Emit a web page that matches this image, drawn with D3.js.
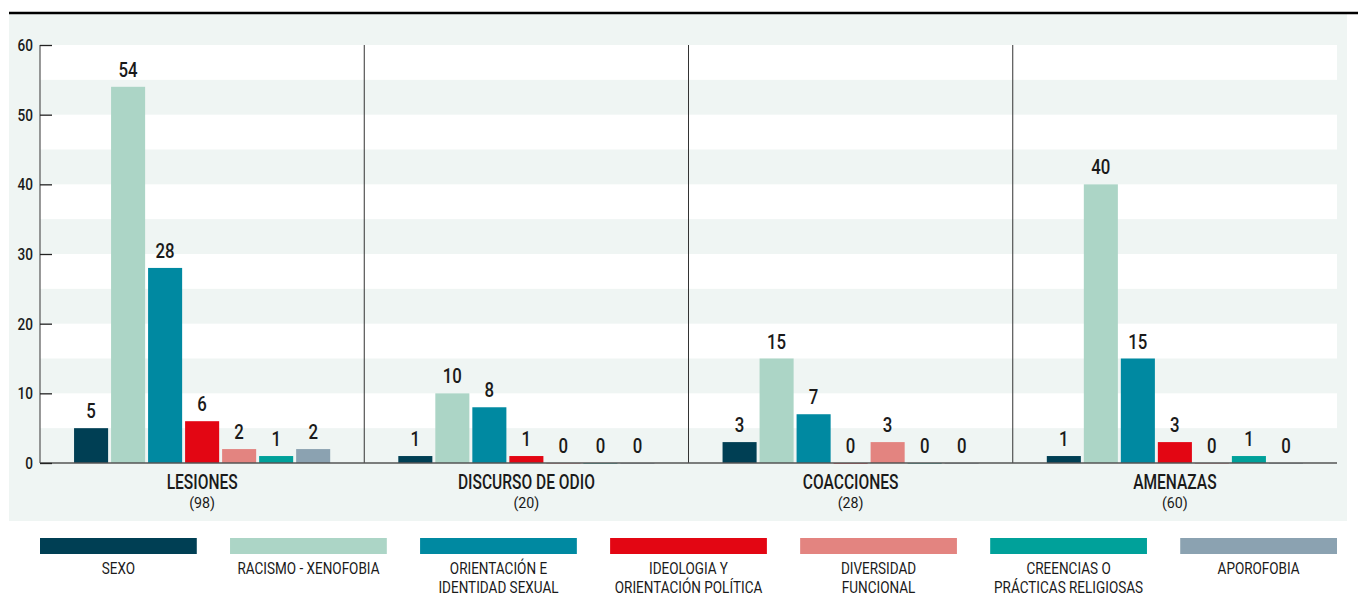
<!DOCTYPE html>
<html><head><meta charset="utf-8">
<script src="https://cdn.jsdelivr.net/npm/d3@7"></script>
<style>
body{margin:0;background:#fff;}
text{font-family:"Roboto","Liberation Sans",sans-serif;fill:#1a1a1a;}
</style></head><body>
<svg id="c" width="1358" height="603"></svg>
<script>
const categories = ["LESIONES","DISCURSO DE ODIO","COACCIONES","AMENAZAS"];
const totals = ["(98)","(20)","(28)","(60)"];
const series = ["SEXO","RACISMO - XENOFOBIA","ORIENTACIÓN E|IDENTIDAD SEXUAL","IDEOLOGIA Y|ORIENTACIÓN POLÍTICA","DIVERSIDAD|FUNCIONAL","CREENCIAS O|PRÁCTICAS RELIGIOSAS","APOROFOBIA"];
const colors = ["#003f54","#acd5c6","#0089a1","#e30613","#e38480","#00a19a","#8ba2b1"];
const lesiones = [5,54,28,6,2,1,2];
const discurso = [1,10,8,1,0,0,0];
const coacciones = [3,15,7,0,3,0,0];
const amenazas = [1,40,15,3,0,1,0];
const yTicks = [0,10,20,30,40,50,60];

const values = [lesiones, discurso, coacciones, amenazas];
const svg = d3.select("#c");
const L = 40, R = 1337, T = 45, B = 463;

// condensed text helper
function ctext(sel, x, y, str, size, sx, anchor, weight){
  return sel.append("text")
    .attr("transform",`translate(${x},${y}) scale(${sx},1)`)
    .attr("text-anchor",anchor).attr("font-size",size).attr("font-weight",weight)
    .text(str);
}

// panel background
svg.append("rect").attr("x",9).attr("y",14).attr("width",1338).attr("height",507).attr("fill","#eff5f3");
svg.append("line").attr("x1",9).attr("x2",1358).attr("y1",13).attr("y2",13).attr("stroke","#000").attr("stroke-width",2.5);

const y = d3.scaleLinear().domain([0,60]).range([B,T]);
const x0 = d3.scaleBand().domain(categories).range([L,R]).padding(0);
const x1 = d3.scaleBand().domain(d3.range(series.length)).range([0,x0.bandwidth()]).paddingInner(0.08).paddingOuter(0.92);

// white stripes
const stripes = d3.range(5,60,10);
svg.selectAll(".stripe").data(stripes).join("rect")
  .attr("x",L).attr("width",R-L)
  .attr("y",d=>y(d+5)).attr("height",d=>y(d)-y(d+5))
  .attr("fill","#fff");

// group dividers
svg.selectAll(".div").data(categories.slice(1)).join("line")
  .attr("x1",d=>x0(d)).attr("x2",d=>x0(d)).attr("y1",T).attr("y2",B)
  .attr("stroke","#333").attr("stroke-width",1);

// bars
categories.forEach((cat,ci)=>{
  const gg = svg.append("g").attr("transform",`translate(${x0(cat)},0)`);
  const vals = values[ci];
  gg.selectAll("rect").data(vals).join("rect")
    .attr("x",(d,i)=>x1(i)).attr("width",x1.bandwidth())
    .attr("y",d=>y(d)).attr("height",d=>Math.max(B-y(d),0.6))
    .attr("fill",(d,i)=>colors[i]);
  vals.forEach((v,i)=>{
    ctext(gg, x1(i)+x1.bandwidth()/2, y(v)-10, v, 21, 0.8, "middle", 500);
  });
  ctext(gg, x0.bandwidth()/2, 489, cat, 20.5, 0.76, "middle", 500);
  ctext(gg, x0.bandwidth()/2, 508, totals[ci], 15, 0.95, "middle", 400);
});

// axes
svg.append("line").attr("x1",L).attr("x2",R).attr("y1",B).attr("y2",B).attr("stroke","#555").attr("stroke-width",1.5);
const ya = d3.axisRight(y).tickValues(yTicks).tickSize(12).tickFormat("");
const yg = svg.append("g").attr("transform",`translate(${L},0)`).call(ya);
yg.select(".domain").attr("stroke","#555").attr("stroke-width",1.2).attr("d",`M0,${T}V${B}`);
yg.selectAll(".tick line").attr("stroke","#222").attr("stroke-width",1.3);
yTicks.forEach(t=>{
  ctext(svg, 33, y(t)+6, t, 17, 0.8, "end", 500);
});

// legend
const lx = d3.scaleBand().domain(d3.range(series.length)).range([40,1337]).paddingInner(0.175).paddingOuter(0);
series.forEach((s,i)=>{
  const lg = svg.append("g").attr("transform",`translate(${lx(i)},0)`);
  lg.append("rect").attr("y",538).attr("height",16).attr("width",lx.bandwidth()).attr("fill",colors[i]);
  s.split("|").forEach((line,j)=>{
    ctext(lg, lx.bandwidth()/2, 574+j*19, line, 16.5, 0.82, "middle", 400);
  });
});
</script></body></html>
